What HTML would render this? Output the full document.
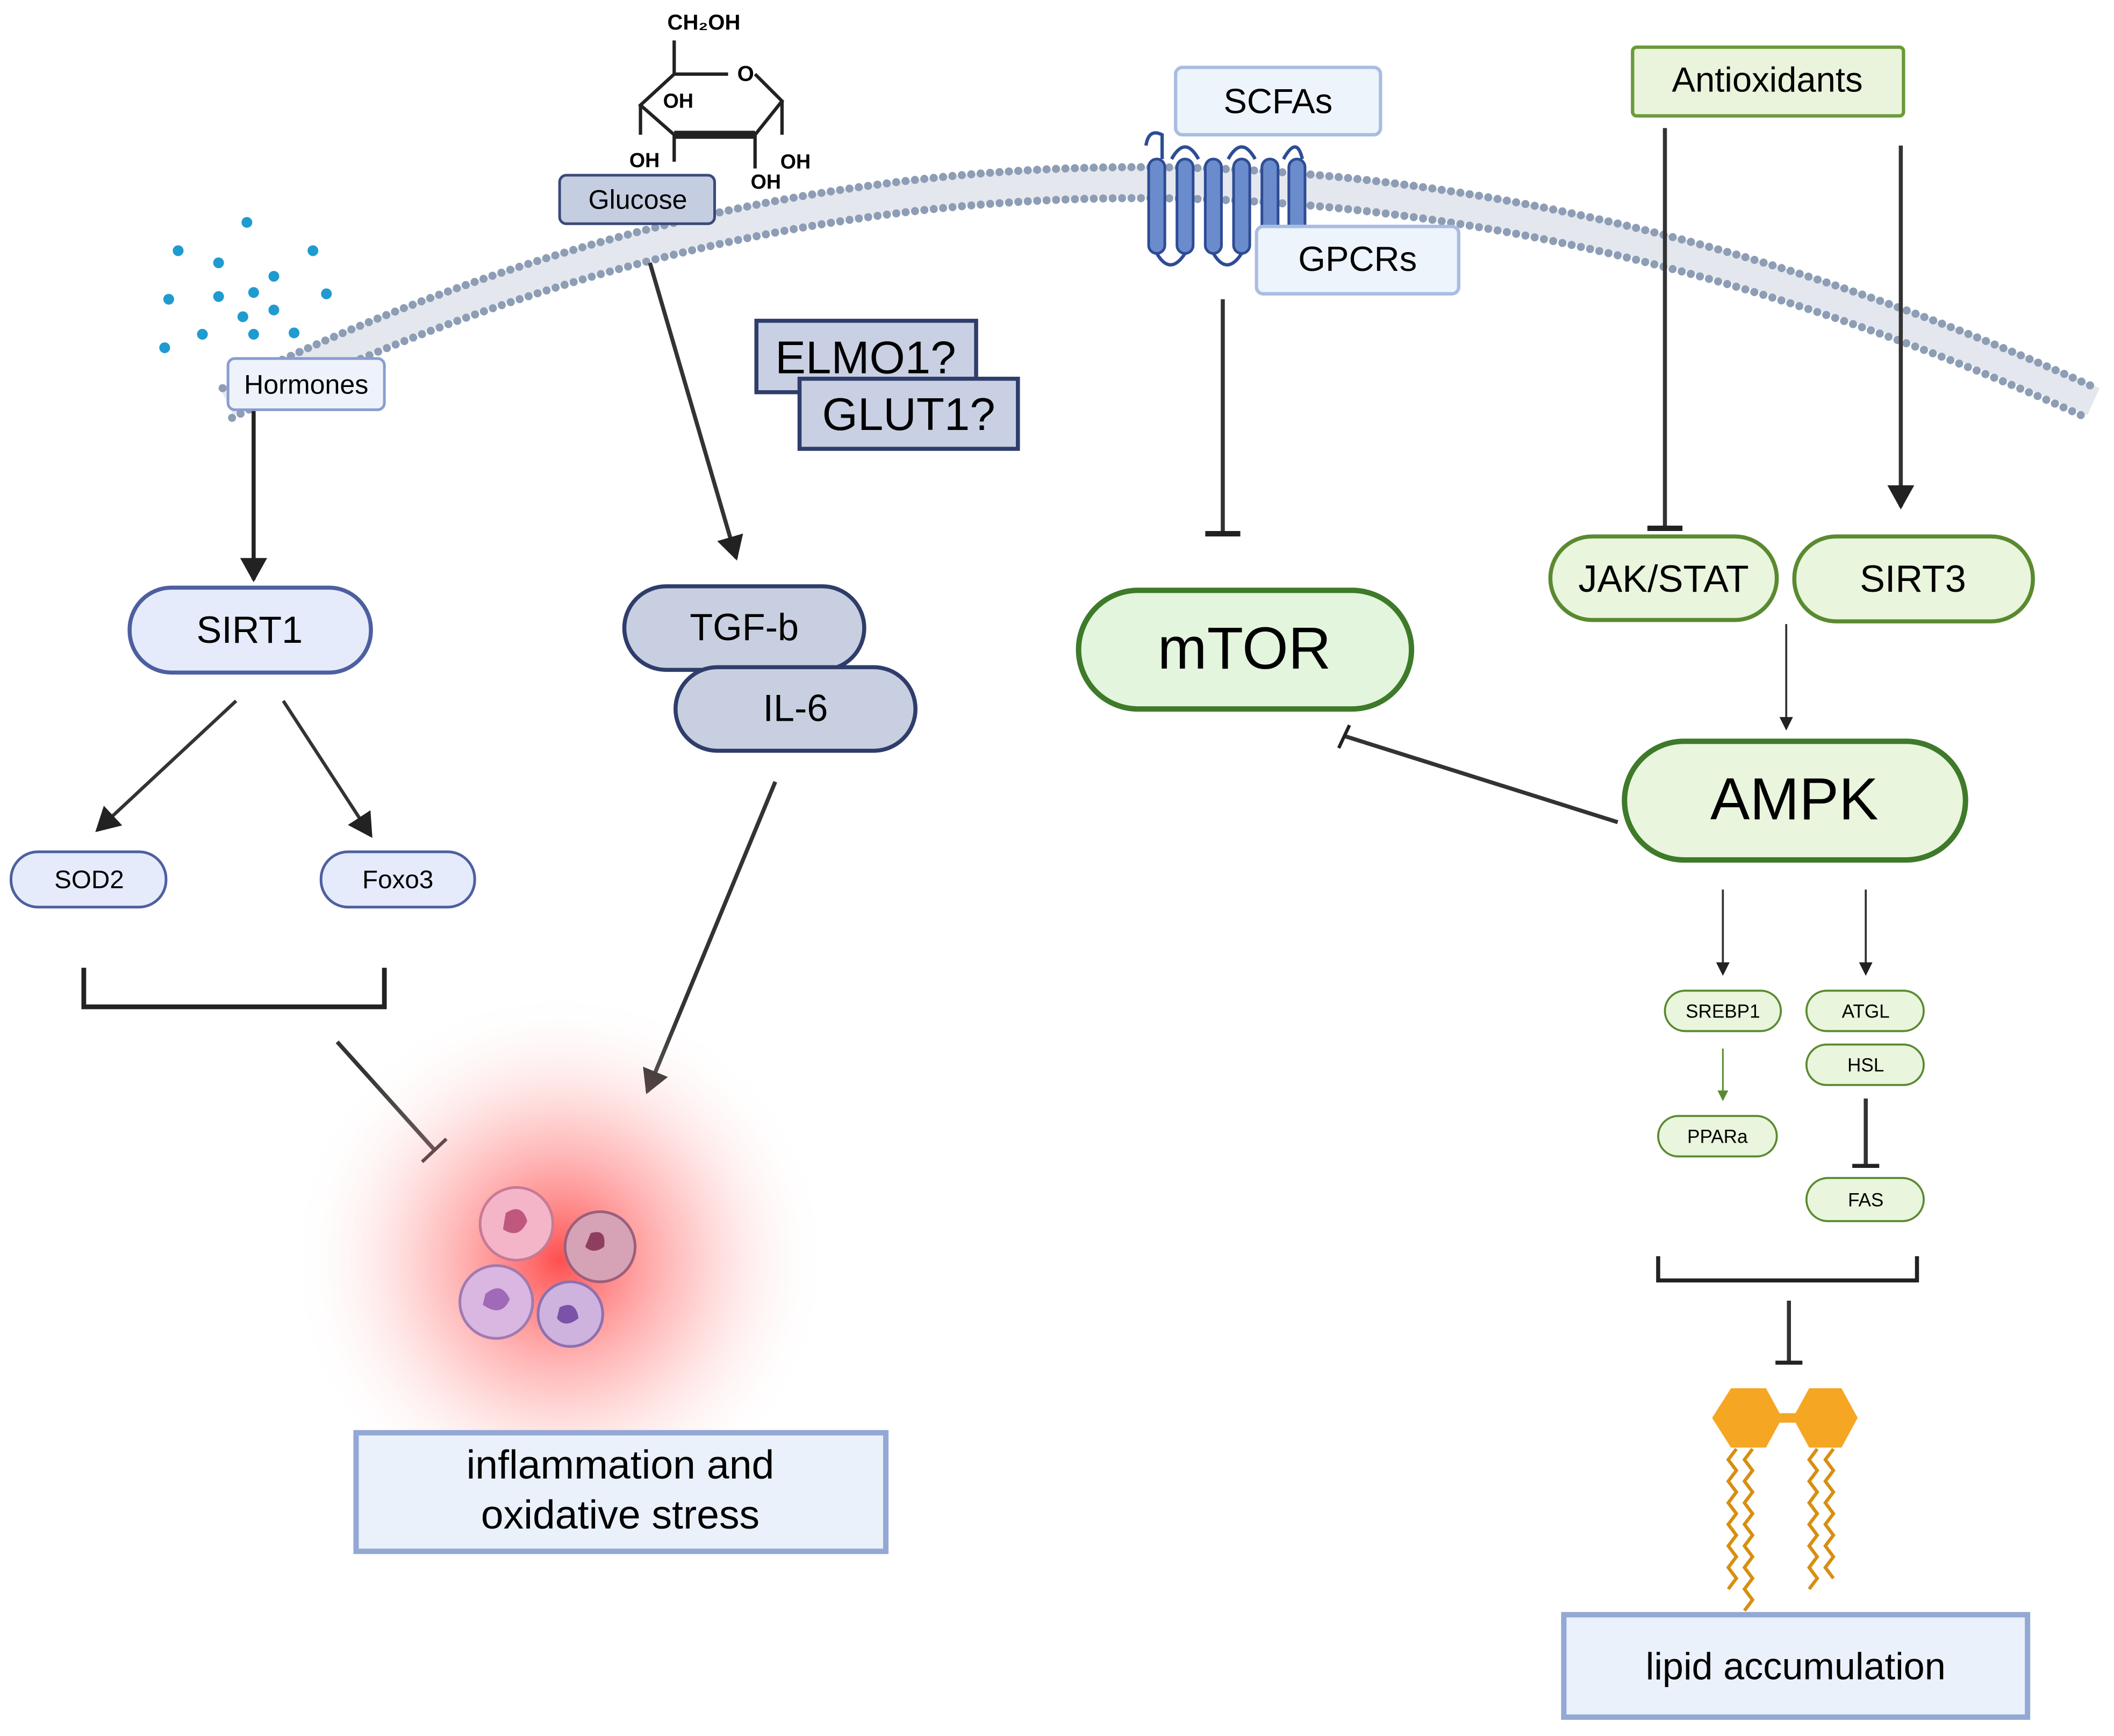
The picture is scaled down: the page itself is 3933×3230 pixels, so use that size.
<!DOCTYPE html>
<html><head><meta charset="utf-8"><style>
html,body{margin:0;padding:0;background:#fff;}
svg{display:block;}
text{font-family:"Liberation Sans",sans-serif;}
</style></head><body>
<svg width="3933" height="3230" viewBox="0 0 1568 1288" xmlns="http://www.w3.org/2000/svg">
<defs>
<marker id="ah" markerWidth="10" markerHeight="10" refX="8" refY="5" orient="auto" markerUnits="userSpaceOnUse"><path d="M0,0 L10,5 L0,10 z" fill="#222"/></marker>
<marker id="ahb" markerWidth="20" markerHeight="20" refX="16" refY="10" orient="auto" markerUnits="userSpaceOnUse"><path d="M0,0 L18,10 L0,20 z" fill="#222"/></marker>
<marker id="ahg" markerWidth="8" markerHeight="8" refX="6" refY="4" orient="auto" markerUnits="userSpaceOnUse"><path d="M0,0 L8,4 L0,8 z" fill="#5a8a30"/></marker>
<radialGradient id="glow"><stop offset="0" stop-color="#ff3030" stop-opacity="0.85"/><stop offset="0.5" stop-color="#ff8080" stop-opacity="0.4"/><stop offset="1" stop-color="#fff" stop-opacity="0"/></radialGradient>
</defs>
<!-- membrane -->
<path d="M168,298 Q830,-28 1553,298" fill="none" stroke="#e4e8ee" stroke-width="22"/>
<path d="M165,288 Q830,-40 1555,288" fill="none" stroke="#8d9db5" stroke-width="6" stroke-dasharray="0 7" stroke-linecap="round"/>
<path d="M172,310 Q830,-16 1548,310" fill="none" stroke="#8d9db5" stroke-width="6" stroke-dasharray="0 7" stroke-linecap="round"/>
<!-- hormone dots -->
<g fill="#1f9bd0">
<circle cx="183" cy="165" r="4"/><circle cx="132" cy="186" r="4"/><circle cx="162" cy="195" r="4"/><circle cx="232" cy="186" r="4"/><circle cx="203" cy="205" r="4"/><circle cx="125" cy="222" r="4"/><circle cx="162" cy="220" r="4"/><circle cx="188" cy="217" r="4"/><circle cx="242" cy="218" r="4"/><circle cx="180" cy="235" r="4"/><circle cx="203" cy="230" r="4"/><circle cx="150" cy="248" r="4"/><circle cx="188" cy="248" r="4"/><circle cx="218" cy="247" r="4"/><circle cx="122" cy="258" r="4"/>
</g>
<rect x="169" y="266" width="116" height="38" rx="5" fill="#eef3fb" stroke="#8a9cd0" stroke-width="2"/>
<text x="227" y="292" font-size="20" text-anchor="middle">Hormones</text>
<line x1="188" y1="305" x2="188" y2="430" stroke="#222" stroke-width="3" marker-end="url(#ahb)"/>
<!-- glucose structure -->
<g stroke="#222" stroke-width="2.5" fill="none">
<path d="M500,30 L500,55 M500,55 L540,55 M560,55 L580,75 L560,100 L500,100 L475,78 L500,55"/>
<path d="M475,78 L475,100 M500,100 L500,120 M560,100 L560,125 M580,75 L580,100"/>
<path d="M500,100 L560,100" stroke-width="6"/>
</g>
<text x="522" y="22" font-size="16" font-weight="bold" text-anchor="middle">CH₂OH</text>
<text x="553" y="60" font-size="16" font-weight="bold" text-anchor="middle">O</text>
<text x="503" y="80" font-size="15" font-weight="bold" text-anchor="middle">OH</text>
<text x="478" y="124" font-size="15" font-weight="bold" text-anchor="middle">OH</text>
<text x="590" y="125" font-size="15" font-weight="bold" text-anchor="middle">OH</text>
<text x="568" y="140" font-size="15" font-weight="bold" text-anchor="middle">OH</text>
<rect x="415" y="130" width="115" height="36" rx="5" fill="#c5cde0" stroke="#3a4a7a" stroke-width="2"/>
<text x="473" y="155" font-size="20" text-anchor="middle">Glucose</text>
<line x1="482" y1="195" x2="546" y2="414" stroke="#333" stroke-width="3" marker-end="url(#ahb)"/>
<!-- ELMO/GLUT -->
<rect x="561" y="238" width="163" height="53" fill="#c9d0e3" stroke="#2f3d6b" stroke-width="3"/>
<text x="642" y="277" font-size="34" text-anchor="middle">ELMO1?</text>
<rect x="593" y="281" width="162" height="52" fill="#c9d0e3" stroke="#2f3d6b" stroke-width="3"/>
<text x="674" y="319" font-size="34" text-anchor="middle">GLUT1?</text>
<!-- SCFAs / GPCR -->
<rect x="872" y="50" width="152" height="50" rx="5" fill="#eef4fc" stroke="#a8bde0" stroke-width="2.5"/>
<text x="948" y="84" font-size="26" text-anchor="middle">SCFAs</text>
<g fill="#6b8ccc" stroke="#2e4c95" stroke-width="2">
<rect x="852" y="118" width="12" height="70" rx="6"/><rect x="873" y="118" width="12" height="70" rx="6"/><rect x="894" y="118" width="12" height="70" rx="6"/><rect x="915" y="118" width="12" height="70" rx="6"/><rect x="936" y="118" width="12" height="70" rx="6"/><rect x="956" y="118" width="12" height="70" rx="6"/>
</g>
<path d="M850,108 Q852,95 862,100 L862,118 M869,118 Q879,100 889,118 M911,118 Q921,100 931,118 M952,118 Q962,100 966,118 M858,188 Q868,205 879,188 M900,188 Q910,205 921,188 M942,188 Q952,205 962,188" fill="none" stroke="#2e4c95" stroke-width="2.5"/>
<rect x="932" y="168" width="150" height="50" rx="5" fill="#eef4fc" stroke="#a8bde0" stroke-width="2.5"/>
<text x="1007" y="201" font-size="26" text-anchor="middle">GPCRs</text>
<line x1="907" y1="222" x2="907" y2="396" stroke="#333" stroke-width="3"/>
<line x1="894" y1="396" x2="920" y2="396" stroke="#222" stroke-width="4"/>
<!-- Antioxidants -->
<rect x="1211" y="35" width="201" height="51" rx="3" fill="#eaf3dc" stroke="#6a9a3a" stroke-width="2.5"/>
<text x="1311" y="68" font-size="26" text-anchor="middle">Antioxidants</text>
<line x1="1235" y1="95" x2="1235" y2="392" stroke="#333" stroke-width="3"/>
<line x1="1222" y1="392" x2="1248" y2="392" stroke="#222" stroke-width="4"/>
<line x1="1410" y1="108" x2="1410" y2="376" stroke="#333" stroke-width="3" marker-end="url(#ahb)"/>
<rect x="1150" y="398" width="168" height="62" rx="31" fill="#e9f5dc" stroke="#5a8a30" stroke-width="3"/>
<text x="1234" y="439" font-size="28" text-anchor="middle">JAK/STAT</text>
<rect x="1331" y="398" width="177" height="63" rx="31" fill="#e9f5dc" stroke="#5a8a30" stroke-width="3"/>
<text x="1419" y="439" font-size="28" text-anchor="middle">SIRT3</text>
<line x1="1325" y1="463" x2="1325" y2="540" stroke="#333" stroke-width="1.5" marker-end="url(#ah)"/>
<rect x="1205" y="550" width="253" height="88" rx="44" fill="#e9f5dc" stroke="#3d7a2a" stroke-width="4"/>
<text x="1331" y="608" font-size="44" text-anchor="middle">AMPK</text>
<rect x="800" y="438" width="247" height="88" rx="44" fill="#e3f5dc" stroke="#3d7a2a" stroke-width="4"/>
<text x="923" y="496" font-size="44" text-anchor="middle">mTOR</text>
<line x1="1200" y1="610" x2="997" y2="546" stroke="#333" stroke-width="3"/>
<line x1="993" y1="555" x2="1001" y2="538" stroke="#222" stroke-width="2.5"/>
<!-- SIRT1 -->
<rect x="96" y="436" width="179" height="63" rx="31" fill="#e5ebfa" stroke="#4e5fa0" stroke-width="3"/>
<text x="185" y="477" font-size="28" text-anchor="middle">SIRT1</text>
<line x1="175" y1="520" x2="72" y2="616" stroke="#333" stroke-width="2.5" marker-end="url(#ahb)"/>
<line x1="210" y1="520" x2="275" y2="620" stroke="#333" stroke-width="2.5" marker-end="url(#ahb)"/>
<rect x="8" y="632" width="115" height="41" rx="20" fill="#e5ebfa" stroke="#4e5fa0" stroke-width="2"/>
<text x="66" y="659" font-size="19" text-anchor="middle">SOD2</text>
<rect x="238" y="632" width="114" height="41" rx="20" fill="#e5ebfa" stroke="#4e5fa0" stroke-width="2"/>
<text x="295" y="659" font-size="19" text-anchor="middle">Foxo3</text>
<path d="M62,718 L62,747 L285,747 L285,718" fill="none" stroke="#222" stroke-width="3.5"/>
<line x1="250" y1="773" x2="322" y2="853" stroke="#333" stroke-width="3"/>
<line x1="313" y1="862" x2="331" y2="845" stroke="#222" stroke-width="2.5"/>
<!-- TGF / IL6 -->
<rect x="463" y="435" width="178" height="62" rx="31" fill="#c8cfe0" stroke="#2f3d6b" stroke-width="3"/>
<text x="552" y="475" font-size="28" text-anchor="middle">TGF-b</text>
<rect x="501" y="495" width="178" height="62" rx="31" fill="#c8cfe0" stroke="#2f3d6b" stroke-width="3"/>
<text x="590" y="535" font-size="28" text-anchor="middle">IL-6</text>
<line x1="575" y1="580" x2="480" y2="810" stroke="#333" stroke-width="3" marker-end="url(#ahb)"/>
<!-- glow and cells -->
<circle cx="415" cy="935" r="200" fill="url(#glow)"/>
<circle cx="383" cy="908" r="27" fill="#f5b5c8" stroke="#c77a95" stroke-width="2"/>
<circle cx="445" cy="925" r="26" fill="#d6a2b6" stroke="#9c5f7a" stroke-width="2"/>
<circle cx="368" cy="966" r="27" fill="#d9b7e0" stroke="#a07ab0" stroke-width="2"/>
<circle cx="423" cy="975" r="24" fill="#cdb3de" stroke="#8e6fb0" stroke-width="2"/>
<path d="M375,900 q12,-8 16,6 q-6,14 -18,6" fill="#c0587e"/>
<path d="M438,915 q12,-4 10,10 q-8,6 -14,0" fill="#8e3f5f"/>
<path d="M360,960 q12,-10 18,4 q-6,14 -20,4" fill="#a06ab8"/>
<path d="M415,970 q12,-6 14,8 q-10,8 -16,0" fill="#7a52a8"/>
<rect x="264" y="1063" width="393" height="88" fill="#eaf1fb" stroke="#93a8d4" stroke-width="4"/>
<text x="460" y="1097" font-size="30" text-anchor="middle">inflammation and</text>
<text x="460" y="1134" font-size="30" text-anchor="middle">oxidative stress</text>
<!-- AMPK downstream -->
<line x1="1278" y1="660" x2="1278" y2="722" stroke="#333" stroke-width="1.5" marker-end="url(#ah)"/>
<line x1="1384" y1="660" x2="1384" y2="722" stroke="#333" stroke-width="1.5" marker-end="url(#ah)"/>
<g fill="#e9f5dc" stroke="#5a8a30" stroke-width="1.5">
<rect x="1235" y="735" width="86" height="30" rx="15"/>
<rect x="1340" y="735" width="87" height="30" rx="15"/>
<rect x="1340" y="775" width="87" height="30" rx="15"/>
<rect x="1230" y="828" width="88" height="30" rx="15"/>
<rect x="1340" y="874" width="87" height="32" rx="16"/>
</g>
<g font-size="14" text-anchor="middle">
<text x="1278" y="755">SREBP1</text>
<text x="1384" y="755">ATGL</text>
<text x="1384" y="795">HSL</text>
<text x="1274" y="848">PPARa</text>
<text x="1384" y="895">FAS</text>
</g>
<line x1="1278" y1="778" x2="1278" y2="815" stroke="#5a8a30" stroke-width="1.2" marker-end="url(#ahg)"/>
<line x1="1384" y1="815" x2="1384" y2="865" stroke="#333" stroke-width="3"/>
<line x1="1374" y1="865" x2="1394" y2="865" stroke="#222" stroke-width="3"/>
<path d="M1230,932 L1230,950 L1422,950 L1422,932" fill="none" stroke="#222" stroke-width="3"/>
<line x1="1327" y1="965" x2="1327" y2="1011" stroke="#333" stroke-width="3"/>
<line x1="1317" y1="1011" x2="1337" y2="1011" stroke="#222" stroke-width="3"/>
<!-- lipid -->
<line x1="1310" y1="1052" x2="1340" y2="1052" stroke="#f5a623" stroke-width="7"/>
<polygon points="1270,1052 1284,1030 1310,1030 1322,1052 1310,1074 1284,1074" fill="#f5a623"/>
<polygon points="1330,1052 1342,1030 1366,1030 1378,1052 1366,1074 1342,1074" fill="#f5a623"/>
<g fill="none" stroke="#d88e10" stroke-width="2.5">
<path d="M1288,1075 l-6,8 6,8 -6,8 6,8 -6,8 6,8 -6,8 6,8 -6,8 6,8 -6,8 6,8 -6,8"/>
<path d="M1300,1075 l-6,8 6,8 -6,8 6,8 -6,8 6,8 -6,8 6,8 -6,8 6,8 -6,8 6,8 -6,8 6,8 -6,8"/>
<path d="M1348,1075 l-6,8 6,8 -6,8 6,8 -6,8 6,8 -6,8 6,8 -6,8 6,8 -6,8 6,8 -6,8"/>
<path d="M1360,1075 l-6,8 6,8 -6,8 6,8 -6,8 6,8 -6,8 6,8 -6,8 6,8 -6,8 6,8"/>
</g>
<rect x="1160" y="1198" width="344" height="76" fill="#eaf1fb" stroke="#93a8d4" stroke-width="4"/>
<text x="1332" y="1246" font-size="28" text-anchor="middle">lipid accumulation</text>
</svg>
</body></html>
